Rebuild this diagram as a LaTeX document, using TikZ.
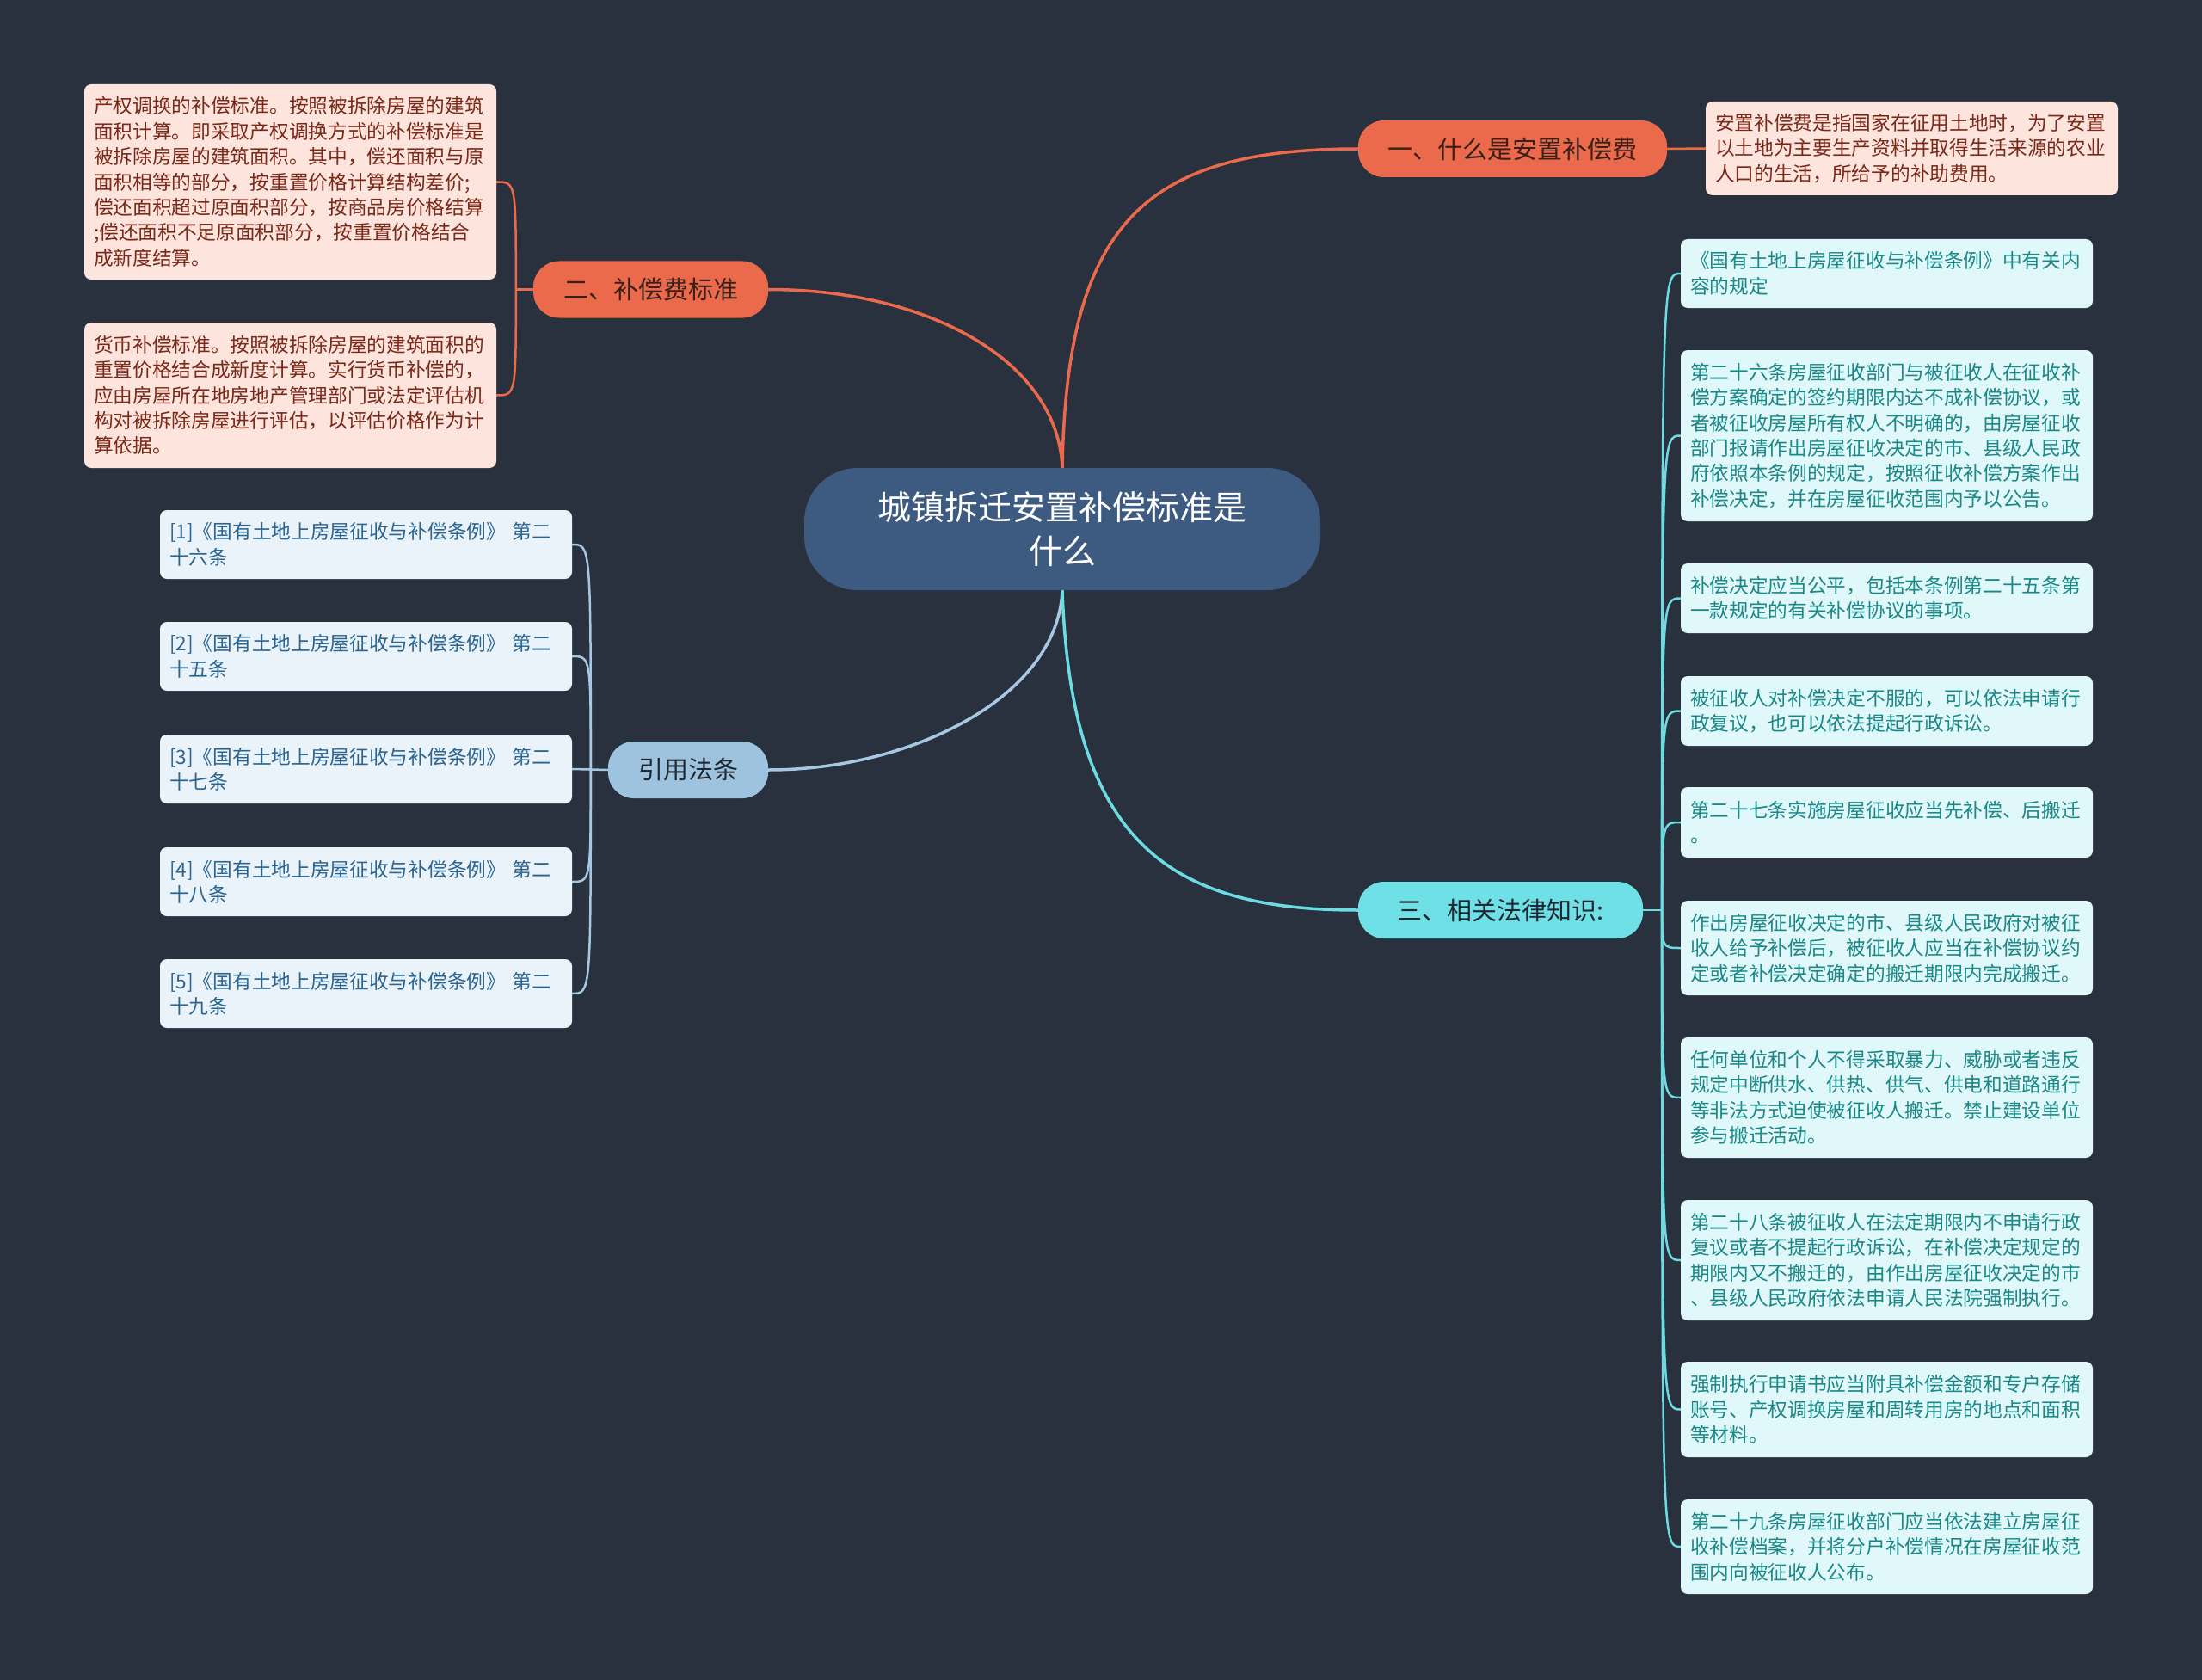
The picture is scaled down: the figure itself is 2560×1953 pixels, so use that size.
\documentclass[tikz,border=0pt]{standalone}
\usepackage{fontspec}
\setmainfont{Noto Sans CJK SC}
\usetikzlibrary{calc}
\definecolor{bgcol}{HTML}{29303E}
\definecolor{orange}{HTML}{EB6A4B}
\definecolor{orangetext}{HTML}{3A2018}
\definecolor{pinkfill}{HTML}{FDE4DD}
\definecolor{pinktext}{HTML}{7A2818}
\definecolor{refnode}{HTML}{9EC3DE}
\definecolor{refline}{HTML}{A6C8E2}
\definecolor{reffill}{HTML}{EAF3FA}
\definecolor{reftext}{HTML}{2A6592}
\definecolor{cyannode}{HTML}{6EE0E6}
\definecolor{cyanline}{HTML}{6CDCE3}
\definecolor{cyanfill}{HTML}{E0F8F9}
\definecolor{cyantext}{HTML}{1B8888}
\definecolor{centerfill}{HTML}{3D5A80}
\definecolor{darktext}{HTML}{1E2833}
\pgfdeclarelayer{bglayer}
\pgfdeclarelayer{linelayer}
\pgfsetlayers{bglayer,linelayer,main}
\tikzset{
  leafbase/.style={rounded corners=8pt, inner xsep=11pt, inner ysep=0pt, text width=457pt, align=left, font=\fontsize{22.7}{29.4}\selectfont, anchor=center},
  leafP/.style={leafbase, fill=pinkfill, text=pinktext},
  leafB/.style={leafbase, fill=reffill, text=reftext},
  leafC/.style={leafbase, fill=cyanfill, text=cyantext},
  branch/.style={rounded corners=30pt, minimum height=66pt, inner sep=0pt, font=\fontsize{29}{34}\selectfont, align=center},
  centernode/.style={fill=centerfill, text=white, rounded corners=62pt, minimum width=600pt, minimum height=142pt, inner sep=0pt, align=center, font=\fontsize{39}{51}\selectfont},
  lnO/.style={draw=orange, line width=3.5pt},
  lnB/.style={draw=refline, line width=3.5pt},
  lnC/.style={draw=cyanline, line width=3.5pt},
  lnBs/.style={draw=refline, line width=2.5pt},
  lnCs/.style={draw=cyanline, line width=2.5pt},
  lnOs/.style={draw=orange, line width=2.5pt},
}
\begin{document}
\begin{tikzpicture}[x=1pt,y=-1pt]
\begin{pgfonlayer}{bglayer}
\fill[bgcol] (0,0) rectangle (2560,1953);
\end{pgfonlayer}
\useasboundingbox (0,0) rectangle (2560,1953);

% center
\node[centernode] (c) at (1235,615) {城镇拆迁安置补偿标准是\\什么};

% branches
\node[branch, fill=orange, text=orangetext, minimum width=359pt] (b1) at (1758.5,173) {一、什么是安置补偿费};
\node[branch, fill=orange, text=orangetext, minimum width=273pt] (b2) at (756.5,336.5) {二、补偿费标准};
\node[branch, fill=refnode, text=darktext, minimum width=186pt] (b4) at (800,895) {引用法条};
\node[branch, fill=cyannode, text=darktext, minimum width=331pt] (b3) at (1744.5,1058) {三、相关法律知识:};

% pink leaves
\node[leafP, minimum height=109pt] (p0) at (2222.5,172.5) {安置补偿费是指国家在征用土地时，为了安置\\以土地为主要生产资料并取得生活来源的农业\\人口的生活，所给予的补助费用。};
\node[leafP, minimum height=227pt] (p1) at (337.5,211.5) {产权调换的补偿标准。按照被拆除房屋的建筑\\面积计算。即采取产权调换方式的补偿标准是\\被拆除房屋的建筑面积。其中，偿还面积与原\\面积相等的部分，按重置价格计算结构差价;\\偿还面积超过原面积部分，按商品房价格结算\\;偿还面积不足原面积部分，按重置价格结合\\成新度结算。};
\node[leafP, minimum height=169pt] (p2) at (337.5,459.5) {货币补偿标准。按照被拆除房屋的建筑面积的\\重置价格结合成新度计算。实行货币补偿的，\\应由房屋所在地房地产管理部门或法定评估机\\构对被拆除房屋进行评估，以评估价格作为计\\算依据。};

% refs
\node[leafB, minimum height=80pt] (f1) at (425.5,633) {[1]《国有土地上房屋征收与补偿条例》~第二\\十六条};
\node[leafB, minimum height=80pt] (f2) at (425.5,763) {[2]《国有土地上房屋征收与补偿条例》~第二\\十五条};
\node[leafB, minimum height=80pt] (f3) at (425.5,894) {[3]《国有土地上房屋征收与补偿条例》~第二\\十七条};
\node[leafB, minimum height=80pt] (f4) at (425.5,1025) {[4]《国有土地上房屋征收与补偿条例》~第二\\十八条};
\node[leafB, minimum height=80pt] (f5) at (425.5,1155) {[5]《国有土地上房屋征收与补偿条例》~第二\\十九条};

% right leaves
\node[leafC, minimum height=80pt] (r1) at (2193.5,318) {《国有土地上房屋征收与补偿条例》中有关内\\容的规定};
\node[leafC, minimum height=199pt] (r2) at (2193.5,506.5) {第二十六条房屋征收部门与被征收人在征收补\\偿方案确定的签约期限内达不成补偿协议，或\\者被征收房屋所有权人不明确的，由房屋征收\\部门报请作出房屋征收决定的市、县级人民政\\府依照本条例的规定，按照征收补偿方案作出\\补偿决定，并在房屋征收范围内予以公告。};
\node[leafC, minimum height=81pt] (r3) at (2193.5,695.5) {补偿决定应当公平，包括本条例第二十五条第\\一款规定的有关补偿协议的事项。};
\node[leafC, minimum height=81pt] (r4) at (2193.5,826.5) {被征收人对补偿决定不服的，可以依法申请行\\政复议，也可以依法提起行政诉讼。};
\node[leafC, minimum height=82pt] (r5) at (2193.5,956) {第二十七条实施房屋征收应当先补偿、后搬迁\\。};
\node[leafC, minimum height=110pt] (r6) at (2193.5,1102) {作出房屋征收决定的市、县级人民政府对被征\\收人给予补偿后，被征收人应当在补偿协议约\\定或者补偿决定确定的搬迁期限内完成搬迁。};
\node[leafC, minimum height=140pt] (r7) at (2193.5,1276) {任何单位和个人不得采取暴力、威胁或者违反\\规定中断供水、供热、供气、供电和道路通行\\等非法方式迫使被征收人搬迁。禁止建设单位\\参与搬迁活动。};
\node[leafC, minimum height=140pt] (r8) at (2193.5,1465) {第二十八条被征收人在法定期限内不申请行政\\复议或者不提起行政诉讼，在补偿决定规定的\\期限内又不搬迁的，由作出房屋征收决定的市\\、县级人民政府依法申请人民法院强制执行。};
\node[leafC, minimum height=111pt] (r9) at (2193.5,1638.5) {强制执行申请书应当附具补偿金额和专户存储\\账号、产权调换房屋和周转用房的地点和面积\\等材料。};
\node[leafC, minimum height=110pt] (r10) at (2193.5,1798) {第二十九条房屋征收部门应当依法建立房屋征\\收补偿档案，并将分户补偿情况在房屋征收范\\围内向被征收人公布。};

% spine points
\coordinate (s2) at ($(b2.west)+(-20,0)$);
\coordinate (s4) at ($(b4.west)+(-20,0)$);
\coordinate (s3) at ($(b3.east)+(22,0)$);

\begin{pgfonlayer}{linelayer}
% center to branches
\draw[lnO] (c.north) .. controls (1240,260) and (1330,173) .. (b1.west);
\draw[lnO] (c.north) .. controls (1230,420) and (1080,336.5) .. (b2.east);
\draw[lnB] (c.south) .. controls (1230,810) and (1060,895) .. (b4.east);
\draw[lnC] (c.south) .. controls (1245,980) and (1360,1058) .. (b3.west);
% branch 1
\draw[lnOs] (b1.east) -- (p0.west);
% branch 2
\draw[lnOs] (b2.west) -- (s2);
\foreach \t in {p1,p2}
  \draw[lnOs] (s2) .. controls (s2 |- \t.east) and (s2 |- \t.east) .. (\t.east);
% refs
\draw[lnBs] (b4.west) -- (f3.east);
\foreach \t in {f1,f2,f4,f5}
  \draw[lnBs] (s4) .. controls (s4 |- \t.east) and (s4 |- \t.east) .. (\t.east);
% right
\draw[lnCs] (b3.east) -- (s3);
\foreach \t in {r1,r2,r3,r4,r5,r6,r7,r8,r9,r10}
  \draw[lnCs] (s3) .. controls (s3 |- \t.west) and (s3 |- \t.west) .. (\t.west);
\end{pgfonlayer}
\end{tikzpicture}
\end{document}
